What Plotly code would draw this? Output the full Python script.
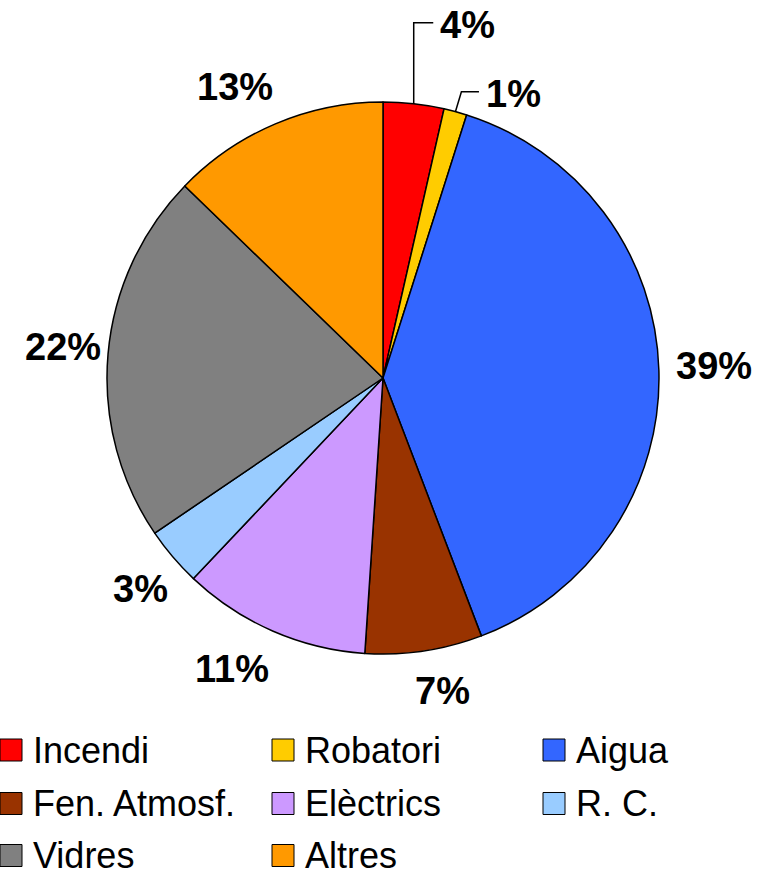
import math
import plotly.graph_objects as go

categories = ["Incendi", "Robatori", "Aigua", "Fen. Atmosf.", "Elèctrics", "R. C.", "Vidres", "Altres"]
values = [3.55, 1.35, 39.3, 6.85, 11.0, 3.45, 21.75, 12.75]
colors = ["#FF0000", "#FFCC00", "#3366FF", "#993300", "#CC99FF", "#99CCFF", "#808080", "#FF9900"]

W, H = 769, 875
CX, CY, R = 383, 378, 276          # pie centre / radius in px
LABEL_FONT = 38
# manual label moves (px offset of label centre from slice mid-point on rim)
leader_offsets = {0: (54, -79), 1: (58, -18)}

def px(x):
    return x / W

def py(y):
    return 1 - y / H

def clamp(v):
    return max(-1.0, min(1.0, v))

fig = go.Figure(go.Pie(
    labels=categories, values=values, sort=False, direction="clockwise", rotation=0,
    marker=dict(colors=colors, line=dict(color="black", width=1.5)),
    textinfo="none", hoverinfo="label+percent", showlegend=False,
    domain=dict(x=[px(CX - R), px(CX + R)], y=[py(CY + R), py(CY - R)]),
))

annotations = []
shapes = []
total = sum(values)
cum = 0.0
for i, v in enumerate(values):
    mid = (cum + v / 2) / total * 2 * math.pi
    cum += v
    pct = f"{round(v / total * 100)}%"
    ux, uy = math.sin(mid), -math.cos(mid)
    tw = 0.556 * LABEL_FONT * (len(pct) - 1) + 0.889 * LABEL_FONT
    th = LABEL_FONT
    ax, ay = CX + R * ux, CY + R * uy
    if i in leader_offsets:
        dx, dy = leader_offsets[i]
        lx, ly = ax + dx, ay + dy
        cx_ = lx - tw / 2 - 7
        bx = min(ax + 6, cx_ - 15) if i > 0 else ax
        path = f"M {px(ax)} {py(ay)} L {px(bx)} {py(ly - 2)} L {px(cx_)} {py(ly - 2)}"
        shapes.append(dict(type="path", xref="paper", yref="paper", path=path,
                           line=dict(color="black", width=1.5)))
    else:
        gx = 17 if ux > 0 else 7
        gy = 17 if uy < 0 else 23
        lx = ax + gx * ux + clamp(4 * ux) * tw / 2
        ly = ay + gy * uy + clamp(2.5 * uy) * th / 2 - 2
    annotations.append(dict(x=px(lx), y=py(ly), xref="paper", yref="paper", text=f"<b>{pct}</b>",
                            showarrow=False, xanchor="center", yanchor="middle",
                            font=dict(family="Liberation Sans, Arial", size=LABEL_FONT, color="black")))

# legend
col_x = [0, 272, 543]
row_y = [750, 803.5, 855.5]
SQ = 22
for i, (name, c) in enumerate(zip(categories, colors)):
    r_, c_ = divmod(i, 3)
    x0 = col_x[c_]
    yc = row_y[r_]
    shapes.append(dict(type="rect", xref="paper", yref="paper",
                       x0=px(x0), x1=px(x0 + SQ), y0=py(yc + SQ / 2), y1=py(yc - SQ / 2),
                       fillcolor=c, line=dict(color="black", width=1)))
    annotations.append(dict(x=px(x0 + 32), y=py(yc), xref="paper", yref="paper", text=name,
                            showarrow=False, xanchor="left", yanchor="middle", borderpad=0,
                            font=dict(family="Liberation Sans, Arial", size=36, color="black")))

fig.update_layout(width=W, height=H, margin=dict(l=0, r=0, t=0, b=0),
                  paper_bgcolor="white", plot_bgcolor="white",
                  annotations=annotations, shapes=shapes)
fig.write_html("out.html", config={"displayModeBar": False},
               post_script="document.body.style.margin='0';window.dispatchEvent(new Event('resize'));")
